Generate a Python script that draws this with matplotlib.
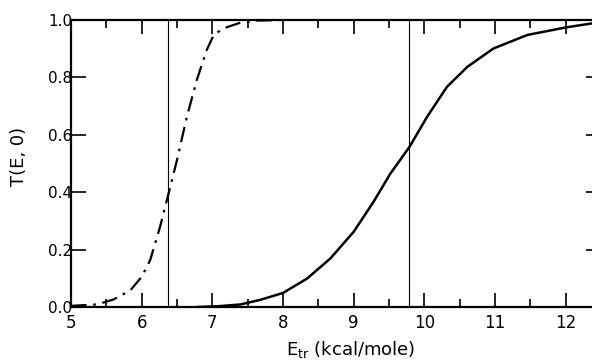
import matplotlib
matplotlib.use('Agg')
import matplotlib.pyplot as plt
from matplotlib.ticker import MultipleLocator

# dash-dot curve
e_a = [5.0, 5.37, 5.60, 5.84, 6.00, 6.12, 6.26, 6.38, 6.50, 6.64, 6.78,
       6.92, 7.02, 7.16, 7.40, 7.64, 8.0]
t_a = [0.004, 0.009, 0.026, 0.058, 0.105, 0.163, 0.279, 0.395, 0.512, 0.663,
       0.791, 0.895, 0.948, 0.971, 0.991, 0.998, 1.0]

# solid curve
e_b = [6.8, 7.1, 7.4, 7.68, 8.0, 8.34, 8.67, 9.0, 9.28, 9.52, 9.79, 10.04,
       10.32, 10.61, 10.98, 11.46, 12.0, 12.5]
t_b = [0.0, 0.003, 0.009, 0.025, 0.049, 0.099, 0.169, 0.262, 0.366, 0.465,
       0.558, 0.663, 0.767, 0.837, 0.901, 0.948, 0.974, 0.993]

# threshold markers
e_marks = [6.37, 9.78]

plt.rcParams['font.family'] = 'DejaVu Sans'

fig = plt.figure(figsize=(5.92, 3.61), dpi=100)
ax = fig.add_axes([71 / 592, 1 - 307 / 361, 530 / 592, 287 / 361])

ax.plot(e_a, t_a, color='black', linewidth=1.6,
        linestyle=(0, (7, 3, 1.2, 3)))
ax.plot(e_b, t_b, color='black', linewidth=1.8)
for e in e_marks:
    ax.plot([e, e], [0, 1], color='black', linewidth=0.8)

ax.set_xlim(5, 12.5)
ax.set_ylim(0, 1)
ax.xaxis.set_major_locator(MultipleLocator(1))
ax.xaxis.set_minor_locator(MultipleLocator(0.5))
ax.yaxis.set_major_locator(MultipleLocator(0.2))
ax.yaxis.set_major_formatter(plt.FuncFormatter(lambda v, p: f"{v:.1f}"))

ax.tick_params(axis='x', which='major', direction='in', length=10, width=1.2,
               top=True, labelsize=12, pad=5)
ax.tick_params(axis='x', which='minor', direction='in', length=6, width=1.2,
               top=True)
ax.tick_params(axis='y', which='major', direction='in', length=11, width=1.2,
               right=True, labelsize=11, pad=-1)

for s in ax.spines.values():
    s.set_linewidth(1.6)

ax.set_xlabel(r'E$_{\rm tr}$ (kcal/mole)', fontsize=13)
ax.xaxis.set_label_coords(0.528, -0.112)
ax.set_ylabel('T(E, 0)', fontsize=13)
ax.yaxis.set_label_coords(-0.081, 0.523)

fig.savefig('out.png', dpi=100)
